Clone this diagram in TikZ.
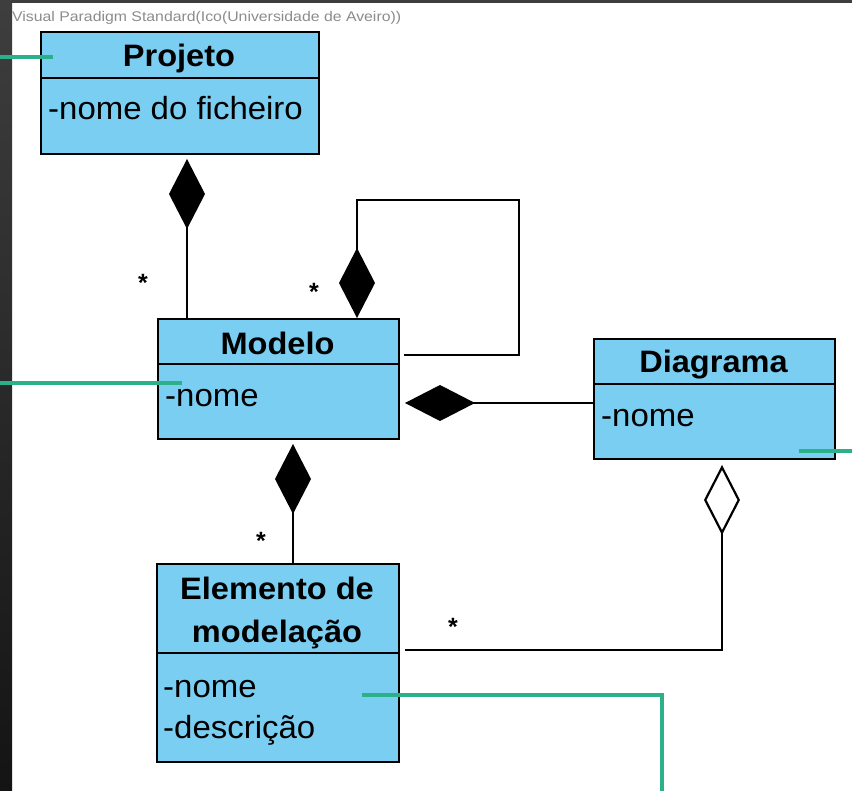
\documentclass[tikz,border=0pt]{standalone}
\usepackage{fontspec}
\setmainfont{Liberation Sans}
\newfontfamily\titlefont{Liberation Sans}[FakeStretch=1.05]
\newfontfamily\attrfont{Liberation Sans}[FakeStretch=1.03]
\usetikzlibrary{arrows.meta}
\definecolor{clsblue}{RGB}{122,206,242}
\definecolor{tealline}{RGB}{43,176,138}
\definecolor{frameTop}{RGB}{62,62,62}
\definecolor{frameBot}{RGB}{20,20,20}
\definecolor{hdrgray}{RGB}{140,140,140}

\begin{document}
\begin{tikzpicture}[x=1pt,y=-1pt,
  classbox/.style={draw=black, fill=clsblue, line width=2pt, inner sep=0pt, anchor=north west},
  divider/.style={line width=2pt},
  title/.style={font=\titlefont\fontsize{31}{36}\selectfont\bfseries, inner sep=0pt, anchor=base},
  attr/.style={font=\attrfont\fontsize{32}{38}\selectfont, inner sep=0pt, anchor=base west},
  mult/.style={font=\fontsize{25}{25}\selectfont\bfseries, inner sep=0pt, anchor=base},
  link/.style={line width=2.2pt},
  comp/.style={link, {Diamond[length=70pt,width=36pt]}-},
  aggr/.style={link, {Diamond[open,fill=white,length=70pt,width=36pt]}-},
  note/.style={tealline, line width=4pt},
]
\useasboundingbox (0,0) rectangle (852,791);
\fill[white] (0,0) rectangle (852,791);

% window frame
\shade[top color=frameTop, bottom color=frameBot] (0,0) rectangle (12,791);
\fill[frameTop] (0,0) rectangle (852,3);

% header
\node[anchor=base west, inner sep=0pt, text=hdrgray, font=\fontsize{14}{16}\selectfont] (header) at (12,22)
  {\scalebox{1.13}[1]{Visual Paradigm Standard(Ico(Universidade de Aveiro))}};

% class boxes
\node[classbox, minimum width=278pt, minimum height=122pt] (projeto) at (40,31) {};
\draw[divider] ([yshift=-47pt]projeto.north west) -- ([yshift=-47pt]projeto.north east);
\node[classbox, minimum width=241pt, minimum height=120pt] (modelo) at (157,318) {};
\draw[divider] ([yshift=-46pt]modelo.north west) -- ([yshift=-46pt]modelo.north east);
\node[classbox, minimum width=241pt, minimum height=120pt] (diagrama) at (593,338) {};
\draw[divider] ([yshift=-46pt]diagrama.north west) -- ([yshift=-46pt]diagrama.north east);
\node[classbox, minimum width=242pt, minimum height=198pt] (elemento) at (156,563) {};
\draw[divider] ([yshift=-90pt]elemento.north west) -- ([yshift=-90pt]elemento.north east);

% class names and attributes
\node[title] (projetoT) at (179,67) {Projeto};
\node[attr] (projetoA) at (48,120) {-nome do ficheiro};
\node[title] (modeloT) at (277.5,355) {Modelo};
\node[attr] (modeloA) at (165,407) {-nome};
\node[title] (diagramaT) at (713.5,373) {Diagrama};
\node[attr] (diagramaA) at (601,427) {-nome};
\node[title] (elemT1) at (277,599) {Elemento de};
\node[title] (elemT2) at (277,642) {modelação};
\node[attr] (elemA1) at (163,697) {-nome};
\node[attr] (elemA2) at (163,738) {-descrição};

% associations
\coordinate (loopcorner) at (519,200);
\draw[comp, shorten <=4pt] ([xshift=147pt]projeto.south west) -- ([xshift=30pt]modelo.north west);
\draw[comp] ([xshift=200pt]modelo.north west) |- (loopcorner) |- ([xshift=4pt,yshift=-37pt]modelo.north east);
\draw[comp, shorten <=5pt] ([yshift=-85pt]modelo.north east) -- ([yshift=-65pt]diagrama.north west);
\draw[comp, shorten <=4pt] ([xshift=136pt]modelo.south west) -- ([xshift=137pt]elemento.north west);
\draw[aggr, shorten <=5pt] ([xshift=129pt]diagrama.south west) |- ([xshift=5pt,yshift=-87pt]elemento.north east);

% multiplicities
\node[mult] (m1) at (143,292) {*};
\node[mult] (m2) at (314,301) {*};
\node[mult] (m3) at (261,549) {*};
\node[mult] (m4) at (453,635) {*};

% highlight lines
\coordinate (edgeA) at (0,57);
\coordinate (edgeB) at (0,383);
\coordinate (edgeC) at (852,451);
\coordinate (edgeD) at (662,791);
\draw[note] (edgeA) -- ([xshift=13pt,yshift=-26pt]projeto.north west);
\draw[note] (edgeB) -- ([xshift=25pt,yshift=-65pt]modelo.north west);
\draw[note] ([xshift=-37pt,yshift=-113pt]diagrama.north east) -- (edgeC);
\draw[note] ([xshift=206pt,yshift=-132pt]elemento.north west) -| (edgeD);
\end{tikzpicture}
\end{document}
